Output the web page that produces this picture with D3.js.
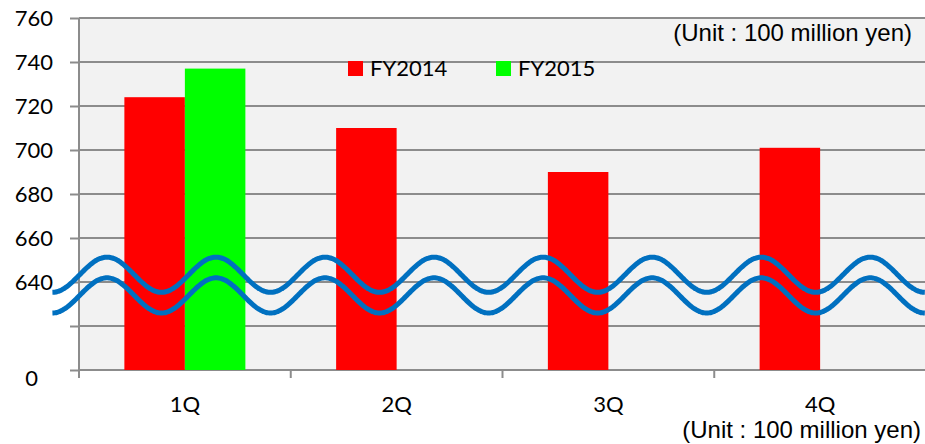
<!DOCTYPE html>
<html>
<head>
<meta charset="utf-8">
<script src="https://cdn.jsdelivr.net/npm/d3@7"></script>
<style>
  html, body { margin: 0; padding: 0; background: #ffffff; }
  svg { display: block; }
</style>
</head>
<body>
<svg id="chart" width="925" height="444"></svg>
<script>
// ---- data ----
const categories = ["1Q", "2Q", "3Q", "4Q"];
const seriesNames = ["FY2014", "FY2015"];
const fy2014 = [724, 710, 690, 701];
const fy2015 = [737, null, null, null];
const yTickValues = [600, 620, 640, 660, 680, 700, 720, 740, 760];
const yTickLabels = ["0", "", "640", "660", "680", "700", "720", "740", "760"];
const unitLabel = "(Unit : 100 million yen)";
// axis-break decoration (wave) in data units
const waveCenters = [643.3, 633.9];
const waveAmplitude = 8;

const colors = { FY2014: "#ff0000", FY2015: "#00ff00" };

// ---- layout ----
const svg = d3.select("#chart");
const W = 925, H = 444;
const margin = { left: 79, top: 18, right: 0, bottom: 74 };
const plotW = 926 - margin.left;
const plotH = H - margin.top - margin.bottom; // 352

const x = d3.scaleBand().domain(categories).range([margin.left, margin.left + plotW]).paddingInner(0).paddingOuter(0);
const x1 = d3.scaleBand().domain(seriesNames).range([0, x.bandwidth()]).paddingInner(0).paddingOuter(0.75);
const y = d3.scaleLinear().domain([600, 760]).range([margin.top + plotH, margin.top]);
const xCat = d3.scaleLinear().domain([0, categories.length]).range([margin.left, margin.left + plotW]);

const gridColor = "#8c8c8c";
const labelFont = "Lato, 'Open Sans', sans-serif";

// plot background
svg.append("rect")
  .attr("x", margin.left).attr("y", margin.top)
  .attr("width", W - margin.left).attr("height", plotH)
  .attr("fill", "#f2f2f2");

// gridlines
svg.append("g").selectAll("line").data(yTickValues).join("line")
  .attr("x1", margin.left).attr("x2", W)
  .attr("y1", d => y(d)).attr("y2", d => y(d))
  .attr("stroke", gridColor).attr("stroke-width", 2);

// y axis
const yAxis = d3.axisLeft(y)
  .tickValues(yTickValues)
  .tickFormat((d, i) => yTickLabels[i])
  .tickSize(9)
  .tickPadding(17);
const gy = svg.append("g").attr("transform", `translate(${margin.left},0)`).call(yAxis);
gy.select(".domain").remove();
gy.selectAll(".tick line").attr("stroke", gridColor).attr("stroke-width", 2);
gy.selectAll(".tick text")
  .attr("font-family", labelFont).attr("font-size", 22).attr("fill", "#000");
gy.selectAll(".tick").filter(d => d === 600).select("text")
  .attr("dx", -15).attr("dy", "0.7em");

// vertical axis line
svg.append("line")
  .attr("x1", margin.left).attr("x2", margin.left)
  .attr("y1", margin.top).attr("y2", margin.top + plotH + 8)
  .attr("stroke", gridColor).attr("stroke-width", 2);

// x axis ticks at category boundaries
const gx = svg.append("g").attr("transform", `translate(0,${margin.top + plotH})`);
gx.selectAll("line").data(categories).join("line")
  .attr("x1", d => x(d)).attr("x2", d => x(d))
  .attr("y1", 0).attr("y2", 8)
  .attr("stroke", gridColor).attr("stroke-width", 2);
gx.selectAll("text").data(categories).join("text")
  .attr("x", d => x(d) + x.bandwidth() / 2)
  .attr("y", 42)
  .attr("text-anchor", "middle")
  .attr("font-family", labelFont).attr("font-size", 22).attr("fill", "#000")
  .text(d => d);

// bars
const barData = [];
categories.forEach((c, i) => {
  barData.push({ cat: c, series: "FY2014", value: fy2014[i] });
  if (fy2015[i] != null) barData.push({ cat: c, series: "FY2015", value: fy2015[i] });
});
svg.append("g").selectAll("rect").data(barData).join("rect")
  .attr("x", d => x(d.cat) + x1(d.series))
  .attr("width", x1.bandwidth())
  .attr("y", d => y(d.value))
  .attr("height", d => y(600) - y(d.value))
  .attr("fill", d => colors[d.series]);

// wave (axis break decoration)
const phaseStart = -0.1255, periodCat = 0.515, nPeriods = 8;
const ts = d3.range(0, nPeriods + 0.0001, 0.01);
const waveLine = d3.line().curve(d3.curveBasis);
waveCenters.forEach(c => {
  const pts = ts.map(t => [xCat(phaseStart + t * periodCat), y(c + waveAmplitude * Math.cos(2 * Math.PI * t + Math.PI))]);
  svg.append("path")
    .attr("d", waveLine(pts))
    .attr("fill", "none")
    .attr("stroke", "#0070c0")
    .attr("stroke-width", 5);
});

// legend
const legend = svg.append("g");
const legendX = [348, 496];
seriesNames.forEach((s, i) => {
  legend.append("rect")
    .attr("x", legendX[i]).attr("y", 61)
    .attr("width", 15).attr("height", 15)
    .attr("fill", colors[s]);
  legend.append("text")
    .attr("x", legendX[i] + 22).attr("y", 76)
    .attr("font-family", labelFont).attr("font-size", 22).attr("fill", "#000")
    .text(s);
});

// unit labels
svg.append("text")
  .attr("x", 912).attr("y", 41)
  .attr("text-anchor", "end")
  .attr("font-family", "'Liberation Sans', Arial, sans-serif").attr("font-size", 24).attr("fill", "#000")
  .text(unitLabel);
svg.append("text")
  .attr("x", 921).attr("y", 438)
  .attr("text-anchor", "end")
  .attr("font-family", "'Liberation Sans', Arial, sans-serif").attr("font-size", 24).attr("fill", "#000")
  .text(unitLabel);
</script>
</body>
</html>
